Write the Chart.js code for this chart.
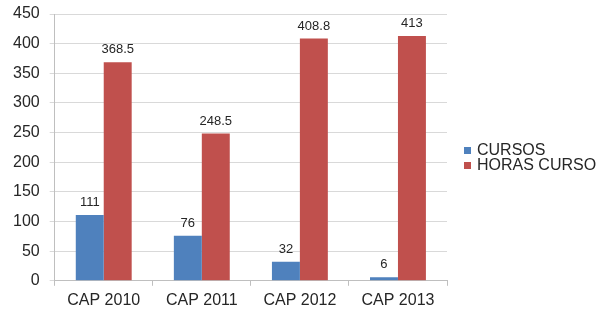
<!DOCTYPE html>
<html>
<head>
<meta charset="utf-8">
<script src="https://cdn.jsdelivr.net/npm/chart.js@4"></script>
<style>
  html, body { margin: 0; padding: 0; background: #fff; }
  #wrap { width: 603px; height: 315px; }
</style>
</head>
<body>
<div id="wrap"><canvas id="chart" width="603" height="315"></canvas></div>
<script>
// chart data
const categories = ['CAP 2010', 'CAP 2011', 'CAP 2012', 'CAP 2013'];
const cursos = [111, 76, 32, 6];
const horasCurso = [368.5, 248.5, 408.8, 413];
const seriesNames = ['CURSOS', 'HORAS CURSO'];
const seriesColors = ['#4f81bd', '#c0504d'];

const FONT = '"Liberation Sans", Arial, sans-serif';

// value labels above each bar
const valueLabels = {
  id: 'valueLabels',
  afterDatasetsDraw(chart) {
    const ctx = chart.ctx;
    ctx.save();
    ctx.font = '13px ' + FONT;
    ctx.fillStyle = '#262626';
    ctx.textAlign = 'center';
    ctx.textBaseline = 'bottom';
    chart.data.datasets.forEach((ds, i) => {
      chart.getDatasetMeta(i).data.forEach((bar, j) => {
        ctx.fillText(String(ds.data[j]), bar.x, bar.y - 6);
      });
    });
    ctx.restore();
  }
};

// legend on the right, Excel style
const sideLegend = {
  id: 'sideLegend',
  afterDraw(chart) {
    const ctx = chart.ctx;
    const x = chart.chartArea.right + 17;
    let y = 150;
    ctx.save();
    ctx.font = '16px ' + FONT;
    ctx.textBaseline = 'middle';
    chart.data.datasets.forEach(ds => {
      ctx.fillStyle = ds.backgroundColor;
      ctx.fillRect(x, y - 3, 7, 7);
      ctx.fillStyle = '#262626';
      ctx.fillText(ds.label, x + 13, y + 1);
      y += 15;
    });
    ctx.restore();
  }
};

new Chart(document.getElementById('chart'), {
  type: 'bar',
  data: {
    labels: categories,
    datasets: [
      { label: seriesNames[0], data: cursos, backgroundColor: seriesColors[0] },
      { label: seriesNames[1], data: horasCurso, backgroundColor: seriesColors[1] }
    ]
  },
  options: {
    responsive: false,
    animation: false,
    layout: { padding: { left: 3, top: 14, right: 156, bottom: 0 } },
    datasets: { bar: { categoryPercentage: 0.57, barPercentage: 1 } },
    plugins: {
      legend: { display: false },
      tooltip: { enabled: false }
    },
    scales: {
      x: {
        grid: { drawOnChartArea: false, drawTicks: true, tickLength: 5, color: '#bfbfbf' },
        border: { color: '#bfbfbf' },
        ticks: { color: '#262626', font: { family: FONT, size: 16 }, padding: 5 }
      },
      y: {
        min: 0,
        max: 450,
        grid: { color: '#d9d9d9', tickLength: 5 },
        border: { color: '#bfbfbf' },
        ticks: { stepSize: 50, color: '#262626', font: { family: FONT, size: 16, lineHeight: 0.4 }, padding: 10 }
      }
    }
  },
  plugins: [valueLabels, sideLegend]
});
</script>
</body>
</html>
